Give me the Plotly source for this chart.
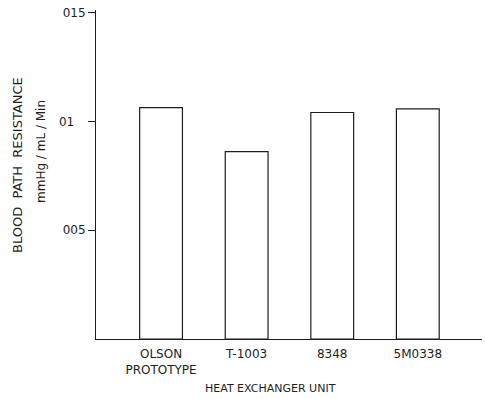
import plotly.graph_objects as go

# Heat exchanger units and measured blood path resistance (mmHg/mL/Min)
units = ["OLSON<br>PROTOTYPE", "T-1003", "8348", "5M0338"]
resistance = [0.01063, 0.00861, 0.01041, 0.01058]

tick_vals = [0.005, 0.01, 0.015]
tick_text = ["005", "01\u00a0\u00a0\u00a0", "015"]

ink = "#1e1e1e"
font = dict(family="DejaVu Sans", size=12, color=ink)

fig = go.Figure(
    go.Bar(
        x=list(range(len(units))),
        y=resistance,
        width=0.5,
        marker=dict(color="white", line=dict(color=ink, width=1.2)),
    )
)

fig.update_layout(
    width=485,
    height=399,
    margin=dict(l=96, r=3, t=10, b=60),
    paper_bgcolor="white",
    plot_bgcolor="white",
    showlegend=False,
    font=font,
    xaxis=dict(
        range=[-0.76, 3.75],
        tickmode="array",
        tickvals=list(range(len(units))),
        ticktext=units,
        ticks="",
        ticklabelstandoff=4,
        showgrid=False,
        zeroline=False,
        showline=True,
        linecolor=ink,
        linewidth=1,
        tickfont=font,
        fixedrange=True,
    ),
    yaxis=dict(
        range=[0, 0.01512],
        tickmode="array",
        tickvals=tick_vals,
        ticktext=tick_text,
        ticks="outside",
        ticklen=7,
        tickcolor=ink,
        showgrid=False,
        zeroline=False,
        showline=True,
        linecolor=ink,
        linewidth=1,
        tickfont=font,
    ),
    annotations=[
        dict(
            text="BLOOD\u00a0\u00a0PATH\u00a0\u00a0RESISTANCE",
            xref="paper", yref="paper",
            x=-96 / 386 + 17 / 386, y=(399 - 60 - 165) / 329,
            textangle=-90, showarrow=False,
            xanchor="center", yanchor="middle",
            font=dict(family="DejaVu Sans", size=13, color=ink),
        ),
        dict(
            text="mmHg / mL / Min",
            xref="paper", yref="paper",
            x=-96 / 386 + 41 / 386, y=(399 - 60 - 152) / 329,
            textangle=-90, showarrow=False,
            xanchor="center", yanchor="middle",
            font=font,
        ),
        dict(
            text="HEAT EXCHANGER UNIT",
            xref="paper", yref="paper",
            x=(270 - 96) / 386, y=-(388 - 339) / 329,
            showarrow=False,
            xanchor="center", yanchor="middle",
            font=dict(family="DejaVu Sans", size=11, color=ink),
        ),
    ],
)

fig.write_html("out.html")
